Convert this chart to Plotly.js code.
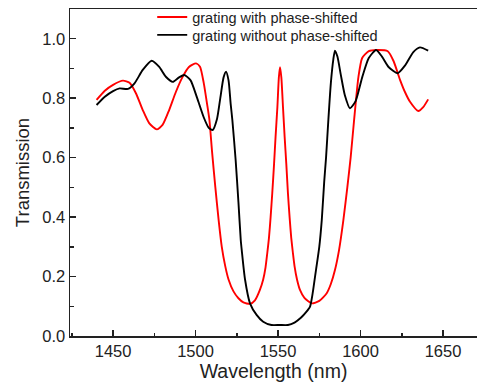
<!DOCTYPE html>
<html>
<head>
<meta charset="utf-8">
<script src="https://cdn.plot.ly/plotly-3.0.1.min.js"></script>
<style>
html,body{margin:0;padding:0;background:#fff;}
#chart{width:477px;height:383px;}
</style>
</head>
<body>
<div id="chart"></div>
<script>
// Red: grating with phase-shifted
const redWavelength = [1440,1445,1450,1456,1460,1464,1468,1472,1476.5,1480,1484,1488,1492,1496,1500.3,1502.7,1505,1507,1508.4,1510,1512,1514,1515.9,1518,1520,1523,1526,1529,1533,1536,1539,1541,1542.4,1543.5,1544.5,1545.5,1546.5,1547.6,1548.5,1549.6,1550.5,1551.2,1552,1553,1554,1555,1556,1557,1558,1559,1560,1561.5,1563.3,1566,1570.4,1575,1579.5,1582,1584.5,1587,1589.6,1592,1594,1596,1598.7,1601,1605,1610,1616.5,1620,1624,1627,1630,1635,1638,1641];
const redTransmission = [0.794,0.825,0.845,0.859,0.852,0.815,0.76,0.715,0.695,0.71,0.76,0.82,0.87,0.905,0.917,0.906,0.85,0.78,0.727,0.62,0.5,0.39,0.3,0.235,0.19,0.15,0.127,0.113,0.108,0.12,0.155,0.19,0.23,0.28,0.33,0.4,0.48,0.58,0.67,0.77,0.87,0.904,0.87,0.77,0.67,0.58,0.48,0.4,0.33,0.28,0.235,0.19,0.155,0.128,0.11,0.118,0.144,0.175,0.222,0.29,0.39,0.5,0.6,0.72,0.87,0.935,0.958,0.962,0.958,0.925,0.861,0.82,0.788,0.757,0.77,0.796];

// Black: grating without phase-shifted
const blackWavelength = [1440,1445,1450,1454,1459,1463,1468,1473.4,1478,1482,1486.2,1490,1493.2,1497,1501,1505,1508,1510.4,1513,1515,1517,1518.5,1520,1521.3,1522.3,1524.3,1526,1527.4,1528,1530,1533,1537,1541,1546,1551,1556,1560,1564,1567,1569.4,1571,1573,1575,1576.5,1578,1579.1,1580.5,1582,1583.5,1584.5,1586,1588,1590.5,1593.6,1597,1601,1605,1609.4,1613,1617,1622.5,1627,1632,1636,1641];
const blackTransmission = [0.777,0.805,0.824,0.833,0.831,0.85,0.895,0.926,0.905,0.872,0.855,0.87,0.878,0.86,0.8,0.735,0.7,0.693,0.73,0.8,0.87,0.889,0.86,0.78,0.727,0.592,0.45,0.323,0.289,0.19,0.11,0.071,0.048,0.037,0.037,0.037,0.045,0.062,0.08,0.099,0.144,0.222,0.3,0.39,0.52,0.6,0.727,0.85,0.93,0.96,0.94,0.88,0.81,0.766,0.79,0.87,0.935,0.962,0.94,0.905,0.884,0.91,0.955,0.971,0.96];

const seriesNames = ["grating with phase-shifted", "grating without phase-shifted"];
const xTickVals = [1450,1500,1550,1600,1650];
const yTickVals = [0.0,0.2,0.4,0.6,0.8,1.0];
const yTickText = ["0.0","0.2","0.4","0.6","0.8","1.0"];

const FONT = "Liberation Sans, Arial, sans-serif";

const traces = [
  {x: redWavelength, y: redTransmission, name: seriesNames[0], type: "scatter", mode: "lines",
   legend: "legend",
   line: {color: "#ff0000", width: 1.9, shape: "spline", smoothing: 0.6}},
  {x: blackWavelength, y: blackTransmission, name: seriesNames[1], type: "scatter", mode: "lines",
   legend: "legend2",
   line: {color: "#000000", width: 1.9, shape: "spline", smoothing: 0.6}}
];

const axisCommon = {
  showline: true, linecolor: "#222", linewidth: 1.5,
  ticks: "inside", ticklen: 6, tickwidth: 1.5, tickcolor: "#222",
  showgrid: false, zeroline: false,
  tickfont: {family: FONT, size: 16.5, color: "#222"}
};

const legendCommon = {
  xanchor: "left", yanchor: "middle", bgcolor: "rgba(0,0,0,0)",
  font: {family: FONT, size: 14.5, color: "#222"}, borderwidth: 0
};

const layout = {
  width: 477, height: 383,
  margin: {l: 70, r: 0, t: 9, b: 47},
  paper_bgcolor: "#fff", plot_bgcolor: "#fff",
  showlegend: true,
  legend: Object.assign({}, legendCommon, {x: 0.202, y: 0.9755}),
  legend2: Object.assign({}, legendCommon, {x: 0.202, y: 0.9205}),
  xaxis: Object.assign({}, axisCommon, {
    range: [1423.9, 1670.6], tickvals: xTickVals, mirror: true,
    minor: {ticks: "inside", ticklen: 3.5, tickwidth: 1.5, tickcolor: "#222", dtick: 25, tick0: 1425},
    title: {text: "Wavelength (nm)", font: {family: FONT, size: 19.5, color: "#222"}, standoff: 3}
  }),
  yaxis: Object.assign({}, axisCommon, {
    range: [0, 1.1], tickvals: yTickVals, ticktext: yTickText,
    minor: {ticks: "inside", ticklen: 3.5, tickwidth: 1.5, tickcolor: "#222", dtick: 0.1, tick0: 0},
    title: {text: "Transmission", font: {family: FONT, size: 18.5, color: "#222"}, standoff: 8}
  })
};

Plotly.newPlot("chart", traces, layout, {displayModeBar: false, staticPlot: true});
</script>
</body>
</html>
